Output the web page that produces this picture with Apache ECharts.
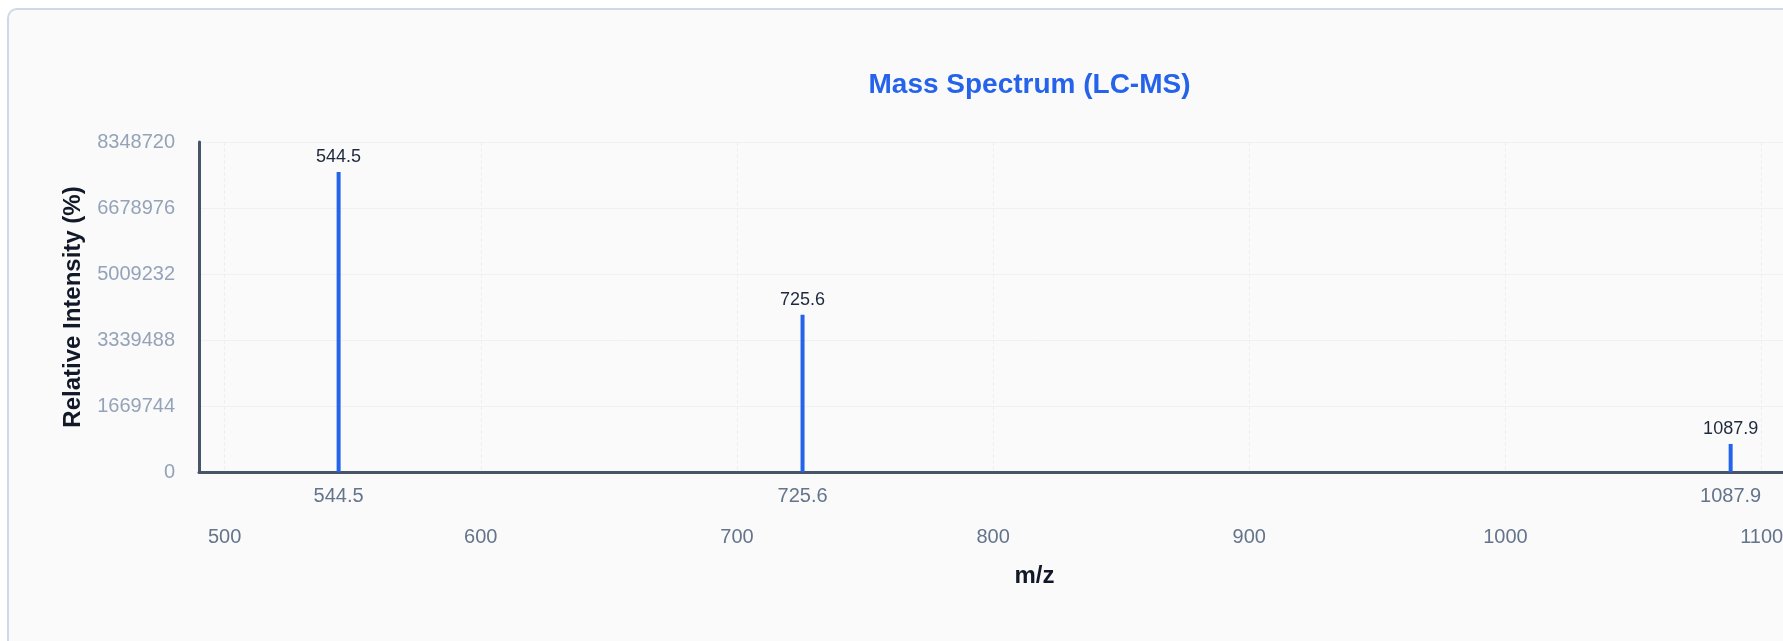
<!DOCTYPE html>
<html>
<head>
<meta charset="utf-8">
<script src="https://cdn.jsdelivr.net/npm/echarts@6/dist/echarts.min.js"></script>
<style>
  html, body { margin: 0; padding: 0; background: #ffffff; overflow: hidden; width: 1783px; height: 641px; }
  #wrap { position: absolute; left: 7px; top: 8px; border: 2px solid #cfd9e6; border-radius: 10px; background: #fafafa; width: 2041px; height: 700px; }
  #chart { width: 2041px; height: 700px; }
</style>
</head>
<body>
<div id="wrap"><div id="chart"></div></div>
<script>
// Peaks (m/z and intensity)
const peakMz = [544.5, 725.6, 1087.9];
const peakIntensity = [7589745, 3980000, 710000];
// Axis ranges and ticks
const xMin = 490;
const xMax = 1142.3;
const xTickValues = [500, 600, 700, 800, 900, 1000, 1100];
const yMax = 8348720;
const yInterval = 1669744;

const chart = echarts.init(document.getElementById('chart'), null, { renderer: 'canvas' });
const seriesData = peakMz.map((mz, i) => [mz, peakIntensity[i]]);
const FONT = 'Liberation Sans, Arial, sans-serif';

chart.setOption({
  backgroundColor: 'transparent',
  animation: false,
  title: {
    text: 'Mass Spectrum (LC-MS)',
    left: 'center',
    top: 61,
    padding: 0,
    textStyle: { color: '#2563eb', fontSize: 28, fontWeight: 'bold', fontFamily: FONT }
  },
  grid: { left: 190, top: 132, width: 1671, height: 330, containLabel: false },
  xAxis: [
    {
      type: 'value',
      min: xMin,
      max: xMax,
      name: 'm/z',
      nameLocation: 'middle',
      nameGap: 92,
      nameTextStyle: { color: '#111827', fontSize: 24, fontWeight: 'bold', fontFamily: FONT },
      axisLine: { show: true, lineStyle: { color: '#475569', width: 3 } },
      axisTick: { show: false, customValues: peakMz },
      axisLabel: { customValues: peakMz, margin: 14, color: '#64748b', fontSize: 20, fontFamily: FONT, formatter: v => String(v) },
      splitLine: { show: false }
    },
    {
      type: 'value',
      min: xMin,
      max: xMax,
      position: 'bottom',
      offset: 40,
      axisLine: { show: false },
      axisTick: { show: false, customValues: xTickValues },
      axisLabel: { customValues: xTickValues, margin: 15, color: '#64748b', fontSize: 20, fontFamily: FONT, formatter: v => String(v) },
      splitLine: { show: true, lineStyle: { color: '#eceff3', type: 'dashed', width: 1 } }
    }
  ],
  yAxis: {
    type: 'value',
    min: 0,
    max: yMax,
    interval: yInterval,
    name: 'Relative Intensity (%)',
    nameLocation: 'middle',
    nameGap: 114,
    nameTextStyle: { color: '#111827', fontSize: 24, fontWeight: 'bold', fontFamily: FONT },
    axisLine: { show: true, lineStyle: { color: '#475569', width: 3 } },
    axisTick: { show: false },
    axisLabel: { margin: 24, color: '#94a3b8', fontSize: 20, fontFamily: FONT, lineHeight: 20, padding: [8, 0, 0, 0], formatter: v => String(v) },
    splitLine: { show: true, lineStyle: { color: '#eef1f5', width: 1 } }
  },
  series: [{
    type: 'bar',
    xAxisIndex: 0,
    data: seriesData,
    barWidth: 4,
    itemStyle: { color: '#2563eb' },
    label: {
      show: true,
      position: 'top',
      distance: 6,
      color: '#1e293b',
      fontSize: 18,
      fontFamily: FONT,
      formatter: p => String(p.value[0])
    }
  }]
});
</script>
</body>
</html>
